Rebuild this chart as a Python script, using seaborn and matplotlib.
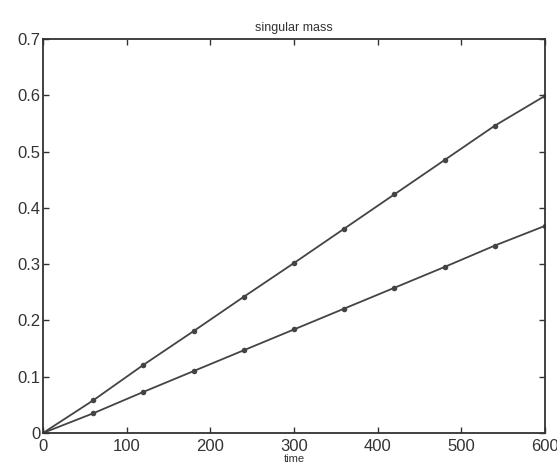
import matplotlib
matplotlib.use("Agg")
import matplotlib.pyplot as plt
import seaborn as sns
import pandas as pd

time = [0, 60, 120, 180, 240, 300, 360, 420, 480, 540, 600]
upper = [0.0, 0.058, 0.121, 0.181, 0.242, 0.302, 0.363, 0.424, 0.485, 0.546, 0.599]
lower = [0.0, 0.035, 0.073, 0.110, 0.147, 0.184, 0.221, 0.258, 0.295, 0.333, 0.368]
xticks = [0, 100, 200, 300, 400, 500, 600]
yticks = [0, 0.1, 0.2, 0.3, 0.4, 0.5, 0.6, 0.7]
ytick_labels = ["0", "0.1", "0.2", "0.3", "0.4", "0.5", "0.6", "0.7"]

sns.set_style("white")
plt.rcParams['font.family'] = ['Liberation Sans', 'DejaVu Sans']

df = pd.DataFrame({
    "time": time * 2,
    "mass": upper + lower,
    "series": ["upper"] * len(time) + ["lower"] * len(time),
})

fig = plt.figure(figsize=(5.57, 4.71), dpi=100)
ax = fig.add_axes([43 / 557, 1 - 433 / 471, (545 - 43) / 557, (433 - 39) / 471])

sns.lineplot(data=df, x="time", y="mass", units="series", estimator=None,
             color="#444444", linewidth=1.3, marker="o", markersize=4,
             markeredgewidth=0, ax=ax, legend=False)

ax.set_xlim(0, 600)
ax.set_ylim(0, 0.7)
ax.set_xticks(xticks)
ax.set_xticklabels([str(t) for t in xticks])
ax.set_yticks(yticks)
ax.set_yticklabels(ytick_labels)
ax.tick_params(direction="in", length=4, width=1, colors="#333333",
               labelsize=12, top=True, right=True, bottom=True, left=True, pad=2)
ax.tick_params(axis="x", pad=4)
for s in ax.spines.values():
    s.set_visible(True)
    s.set_color("#333333")
    s.set_linewidth(1.3)
ax.set_xlabel("time", fontsize=8, labelpad=0, color="#333333")
ax.set_ylabel("")
ax.set_title("singular mass", fontsize=9, pad=6, color="#333333")

fig.savefig("out.png", dpi=100)
